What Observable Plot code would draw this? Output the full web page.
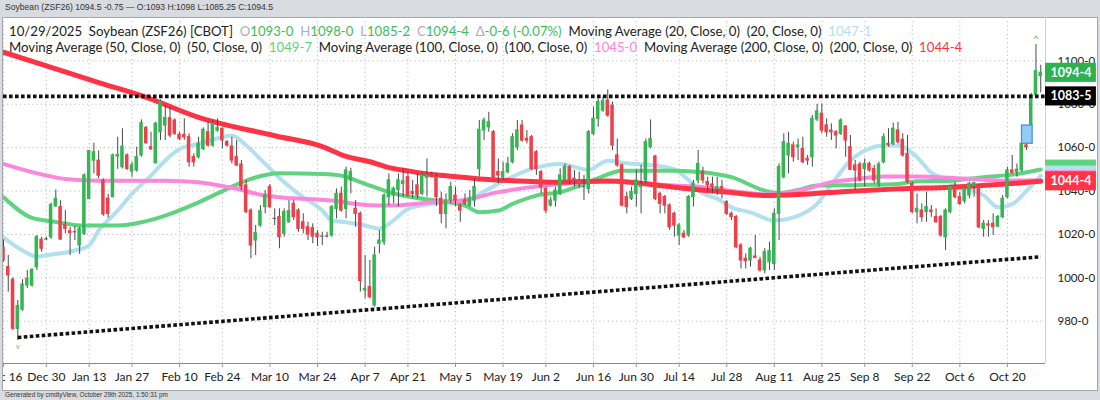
<!DOCTYPE html>
<html><head><meta charset="utf-8">
<script src="https://cdn.jsdelivr.net/npm/d3@7"></script>
<script src="https://cdn.jsdelivr.net/npm/@observablehq/plot@0.6"></script>
<style>
html,body{margin:0;padding:0}
body{background:#d8dbdf;width:1100px;height:400px;overflow:hidden;position:relative;font-family:Lato,sans-serif}
#top{position:absolute;left:5px;top:2px;font-size:8.6px;color:#333;font-family:"Liberation Sans",Arial,sans-serif;white-space:pre}
#frame{position:absolute;left:2px;top:17px;width:1096px;height:374px;background:#fff;border:1px solid #a5a8ab;box-sizing:border-box}
#chart{position:absolute;left:3px;top:17px}
.hdr{position:absolute;left:9px;font-size:13.2px;color:#222;white-space:pre;line-height:16px}
.lab{color:#b0b0b0}.gv{color:#3cbc5c}
#bottom{position:absolute;left:5px;top:391px;font-size:6.4px;color:#333;font-family:"Liberation Sans",Arial,sans-serif}
</style></head>
<body>
<div id="top">Soybean (ZSF26) 1094.5 -0.75 — O:1093 H:1098 L:1085.25 C:1094.5</div>
<div id="frame"></div>
<div id="chart"></div>
<div class="hdr" id="h1" style="top:22.5px">10/29/2025  Soybean (ZSF26) [CBOT]  <span class="lab">O</span><span class="gv">1093-0</span>  <span class="lab">H</span><span class="gv">1098-0</span>  <span class="lab">L</span><span class="gv">1085-2</span>  <span class="lab">C</span><span class="gv">1094-4</span>  <span class="lab">Δ</span><span class="gv">-0-6 (-0.07%)</span>  Moving Average (20, Close, 0)  (20, Close, 0)  <span style="color:#b3e0ee">1047-1</span></div>
<div class="hdr" id="h2" style="top:39px">Moving Average (50, Close, 0)  (50, Close, 0)  <span style="color:#5fd37f">1049-7</span>  Moving Average (100, Close, 0)  (100, Close, 0)  <span style="color:#ff86dd">1045-0</span>  Moving Average (200, Close, 0)  (200, Close, 0)  <span style="color:#ff3346">1044-4</span></div>
<div id="bottom">Generated by cmdtyView, October 29th 2025, 1:50:31 pm</div>
<script>
// ---- data (trading-day index 0 = Dec 16 2024 ... 218 = Oct 29 2025) ----
const open = [1013.8,1004.9,999.1,976.5,985.3,996.5,996.5,1004.9,1017.5,1017.7,1018.7,1032.9,1032.6,1024.4,1021.5,1021.0,1014.9,1020.3,1036.4,1054.0,1054.0,1044.8,1036.5,1037.2,1056.0,1051.0,1056.4,1049.0,1049.5,1056.4,1069.1,1060.2,1052.8,1067.1,1070.2,1073.6,1072.5,1065.9,1065.9,1064.8,1055.6,1055.6,1059.4,1067.1,1061.0,1067.9,1068.7,1062.5,1060.5,1055.6,1052.2,1042.6,1031.0,1017.2,1024.1,1032.6,1041.8,1027.2,1028.0,1020.3,1025.6,1034.1,1031.0,1025.6,1023.3,1022.9,1020.3,1019.0,1019.0,1019.5,1031.8,1038.7,1031.8,1044.9,1031.8,1029.5,994.2,995.7,987.3,1015.7,1016.4,1037.2,1037.9,1040.5,1043.3,1046.4,1039.5,1042.6,1038.7,1046.1,1047.2,1046.4,1036.4,1029.5,1035.6,1037.9,1033.3,1035.6,1033.3,1035.6,1050.2,1067.9,1069.4,1067.1,1048.7,1046.4,1048.7,1053.3,1060.2,1070.2,1064.0,1064.8,1057.9,1048.7,1041.0,1033.3,1035.6,1038.7,1044.9,1051.0,1045.6,1044.9,1041.8,1041.0,1066.4,1073.3,1077.1,1081.7,1079.4,1056.4,1051.8,1037.2,1036.4,1038.7,1041.8,1044.9,1060.2,1055.9,1038.7,1037.2,1033.3,1029.5,1019.5,1020.3,1019.5,1037.2,1044.9,1048.7,1044.1,1043.0,1041.0,1041.8,1034.9,1029.5,1028.0,1014.9,1008.8,1008.0,1009.8,1008.0,1003.4,1007.2,1006.4,1029.5,1046.4,1056.4,1061.0,1060.2,1059.4,1054.8,1055.6,1073.0,1075.6,1070.2,1067.9,1067.1,1066.4,1069.7,1060.2,1051.8,1052.2,1050.2,1052.5,1050.2,1043.3,1053.3,1061.7,1061.7,1067.9,1063.6,1057.1,1043.3,1030.3,1031.0,1030.3,1031.0,1028.0,1028.0,1018.7,1030.3,1041.8,1037.2,1035.3,1038.0,1042.3,1041.8,1022.6,1024.6,1024.9,1023.6,1028.0,1037.2,1049.5,1048.7,1049.5,1061.0,1070.1,1084.2,1093.0];
const high = [1017.5,1010.3,1000.0,989.6,999.1,1003.4,1004.1,1019.5,1018.7,1018.7,1034.4,1040.5,1035.6,1031.0,1023.3,1023.6,1023.3,1047.9,1058.7,1062.0,1058.5,1045.6,1038.5,1057.1,1064.8,1068.7,1057.1,1053.3,1060.2,1072.8,1069.7,1067.1,1071.7,1082.0,1079.4,1078.7,1073.3,1067.1,1073.3,1066.4,1057.1,1064.8,1069.1,1071.7,1072.5,1073.3,1069.1,1063.3,1064.8,1063.3,1054.1,1044.9,1031.8,1024.1,1033.3,1040.2,1043.0,1031.8,1031.8,1031.8,1035.6,1035.6,1031.8,1029.5,1025.6,1024.9,1021.8,1021.0,1021.0,1033.3,1041.0,1041.8,1051.0,1050.5,1035.6,1030.3,1010.3,1008.0,1014.1,1021.8,1038.7,1047.9,1041.8,1047.9,1050.2,1048.7,1044.9,1047.9,1048.2,1054.8,1048.7,1047.9,1039.5,1038.7,1044.1,1041.8,1034.1,1038.7,1040.2,1045.6,1072.5,1073.7,1076.3,1067.9,1054.8,1053.3,1055.6,1066.4,1072.5,1072.5,1067.9,1065.6,1058.7,1049.5,1041.8,1037.2,1041.8,1050.2,1052.5,1051.8,1049.5,1048.7,1047.2,1067.9,1078.7,1082.5,1083.3,1086.6,1081.0,1064.0,1052.5,1039.5,1041.8,1049.5,1051.8,1064.0,1072.8,1056.4,1039.5,1038.0,1034.1,1030.3,1024.9,1021.8,1037.9,1044.9,1058.7,1051.0,1046.4,1046.4,1046.4,1044.9,1035.6,1030.3,1028.7,1015.7,1011.0,1014.1,1019.5,1009.5,1013.4,1016.4,1031.8,1052.5,1066.4,1067.1,1062.5,1064.0,1064.8,1056.4,1074.8,1080.0,1080.2,1073.3,1071.0,1067.9,1073.3,1070.2,1065.6,1054.1,1053.3,1054.8,1053.3,1051.8,1053.3,1066.4,1068.7,1071.3,1071.7,1066.4,1065.6,1044.1,1038.7,1034.1,1039.5,1033.3,1031.8,1028.7,1031.8,1042.6,1044.1,1039.5,1041.8,1044.1,1044.1,1042.6,1026.4,1026.4,1029.5,1028.7,1037.9,1051.0,1056.4,1052.5,1062.5,1062.5,1085.0,1107.5,1098.0];
const low = [1007.2,993.4,975.7,971.1,984.6,995.0,995.7,1003.4,1011.8,1017.2,1017.7,1032.6,1017.2,1020.3,1010.3,1017.2,1010.8,1019.5,1035.9,1047.9,1045.6,1028.4,1027.5,1036.9,1050.0,1050.2,1049.5,1046.4,1048.7,1055.6,1061.8,1058.7,1052.5,1063.3,1063.3,1064.5,1065.6,1063.3,1063.3,1051.0,1051.0,1054.8,1058.7,1060.2,1060.2,1067.1,1059.4,1060.2,1052.5,1051.3,1040.2,1029.5,1008.8,1010.3,1023.3,1029.5,1031.8,1024.1,1013.4,1018.7,1025.2,1026.4,1021.0,1020.3,1017.2,1015.7,1014.4,1014.9,1018.4,1018.7,1027.2,1030.3,1027.2,1038.7,1023.3,993.4,990.3,990.3,986.5,1011.0,1014.9,1033.3,1034.1,1032.6,1037.2,1037.2,1036.4,1036.4,1037.9,1037.2,1046.1,1032.9,1024.9,1022.6,1034.1,1032.9,1025.6,1033.3,1032.6,1032.6,1046.4,1063.3,1067.1,1044.9,1043.3,1044.9,1047.9,1052.5,1058.7,1062.5,1061.7,1049.5,1047.2,1038.7,1029.5,1032.6,1032.6,1037.9,1044.1,1043.3,1041.8,1041.0,1035.6,1038.7,1065.6,1069.4,1076.3,1074.0,1058.7,1051.0,1032.6,1029.5,1035.6,1032.6,1029.5,1043.3,1059.4,1035.6,1029.5,1029.5,1021.8,1018.7,1014.9,1018.0,1018.7,1032.6,1043.3,1043.3,1039.5,1038.7,1037.9,1036.4,1028.7,1026.4,1013.4,1004.1,1004.1,1004.9,1008.8,1002.6,1001.8,1003.4,1003.4,1017.2,1045.6,1047.9,1053.3,1054.1,1052.5,1051.8,1051.0,1072.0,1066.4,1064.8,1063.3,1059.4,1065.6,1055.6,1049.5,1040.2,1044.1,1041.8,1048.7,1043.3,1041.8,1052.5,1060.2,1061.0,1061.7,1055.6,1043.3,1029.5,1024.9,1025.6,1025.6,1027.9,1025.2,1018.7,1012.6,1029.5,1036.4,1033.3,1034.1,1036.4,1037.2,1022.6,1018.7,1018.7,1019.5,1023.3,1027.2,1036.4,1047.9,1046.4,1048.7,1058.7,1069.9,1083.5,1085.25];
const close = [1008.0,1001.1,976.5,987.0,996.9,999.5,1003.7,1018.7,1013.4,1017.7,1033.6,1036.4,1017.7,1022.6,1020.6,1021.0,1022.6,1047.2,1058.4,1057.9,1047.1,1029.2,1029.5,1056.4,1056.6,1060.5,1050.2,1051.8,1055.6,1071.3,1062.0,1059.4,1071.0,1081.0,1073.7,1065.6,1066.4,1064.0,1064.8,1053.3,1053.3,1061.7,1068.2,1061.0,1071.0,1069.1,1063.3,1061.0,1054.1,1051.8,1041.8,1030.3,1014.9,1020.6,1030.7,1038.0,1032.6,1027.2,1018.7,1030.3,1030.7,1028.0,1022.6,1022.6,1020.0,1019.0,1018.7,1019.0,1019.0,1032.6,1038.7,1031.0,1049.5,1048.7,1029.5,998.5,994.9,991.1,1010.3,1017.2,1037.9,1044.9,1041.0,1044.9,1044.5,1037.9,1038.7,1037.9,1047.2,1047.2,1046.4,1037.2,1029.5,1035.6,1041.8,1035.6,1031.0,1034.1,1036.4,1041.8,1068.2,1072.5,1071.7,1045.6,1047.2,1048.7,1052.5,1064.8,1067.9,1063.3,1063.3,1050.2,1050.2,1041.8,1031.0,1035.6,1040.2,1047.2,1051.0,1044.9,1044.9,1043.3,1041.8,1067.1,1073.3,1081.0,1081.4,1074.8,1061.0,1051.8,1033.3,1032.6,1039.5,1044.9,1042.6,1062.5,1064.0,1036.4,1034.1,1033.3,1023.3,1024.1,1024.1,1018.7,1037.2,1043.3,1052.5,1044.9,1042.6,1041.8,1041.8,1038.7,1029.5,1028.0,1014.1,1008.0,1007.7,1013.4,1009.2,1003.4,1011.8,1012.3,1029.5,1051.0,1062.5,1061.7,1055.6,1061.0,1053.3,1054.1,1073.3,1076.7,1067.9,1067.1,1067.1,1065.6,1072.5,1063.3,1049.8,1049.5,1044.9,1052.5,1049.5,1044.9,1052.2,1064.8,1061.3,1068.7,1062.5,1056.4,1044.1,1030.3,1031.8,1028.0,1032.6,1030.3,1025.6,1019.5,1031.0,1041.8,1037.2,1034.1,1041.0,1043.3,1043.6,1023.3,1024.9,1024.1,1023.3,1028.0,1036.4,1049.5,1048.4,1049.8,1061.7,1060.2,1084.0,1095.25,1094.5];

const ma20Idx = [0,4,7,10,15,18,20,24,27,31,34,37,41,46,48,51,55,58,62,67,69,72,76,79,82,85,90,97,102,106,111,117,123,127,131,137,141,144,147,150,153,157,162,165,168,171,174,178,182,185,188,192,195,198,201,204,206,209,212,215,218];
const ma20Val = [1018.7,1012.6,1009.8,1010.7,1012.6,1015,1021.8,1031,1038.7,1047.1,1054.1,1059.4,1061.8,1064.8,1065.6,1061,1052.5,1046,1038.7,1031,1026.4,1025.6,1024.1,1022.6,1026.5,1031.8,1034.1,1035.6,1041,1045.6,1050.2,1052.5,1049.8,1054,1052.8,1051.7,1050,1045,1039,1036.5,1032.5,1030.2,1026.4,1027.2,1029.5,1034.1,1043,1054.1,1059.6,1061,1061,1055.6,1048.5,1045.5,1041.5,1040,1038,1032.5,1034,1040,1047.1];
const ma50Idx = [0,6,10,17,24,29,34,41,47,52,58,67,71,76,81,86,91,97,100,104,107,112,117,124,130,141,147,153,160,163,167,171,180,188,192,199,206,213,218];
const ma50Val = [1037.1,1027.6,1026.1,1024.1,1024.1,1025.6,1028.7,1034.8,1041,1045.6,1048.2,1047.9,1047.1,1043.3,1039.5,1037.1,1035.6,1033.3,1030.2,1031,1034.1,1037.9,1039.5,1045,1049.4,1049.4,1048.7,1046.4,1040.2,1039,1040.5,1042.5,1042.8,1043.3,1044.5,1044.8,1046.4,1047.8,1049.9];
const ma100Idx = [0,6,13,20,34,41,48,55,58,69,76,81,90,97,104,111,117,127,141,147,155,160,168,174,178,185,192,199,206,210,218];
const ma100Val = [1052.5,1048.7,1045.6,1044.8,1044.8,1044.1,1041.5,1037.9,1037.1,1035.6,1033.6,1033.3,1034.8,1035.9,1039.5,1041.8,1043.3,1044.5,1042.5,1041.8,1039.5,1038.4,1040.5,1044.1,1045.2,1046.7,1046.7,1046.1,1045.2,1044.8,1045];
const ma200Idx = [0,10,20,30,41,57,67,72,77,81,85,88,93,100,107,117,127,141,147,152,160,168,178,188,199,209,218];
const ma200Val = [1104,1097,1090,1083.2,1074,1065.5,1060.5,1056,1053.5,1050.8,1049.3,1048.2,1047,1045.6,1044.8,1044.1,1044.6,1041.8,1040.4,1039.5,1037.9,1038.5,1039.9,1041,1041.8,1043,1044.5];

const tickIdx = [0,9,18,27,37,46,56,66,76,85,95,105,114,124,133,142,152,162,172,181,191,201,211];
const tickLabels = ["Dec 16","Dec 30","Jan 13","Jan 27","Feb 10","Feb 24","Mar 10","Mar 24","Apr 7","Apr 21","May 5","May 19","Jun 2","Jun 16","Jun 30","Jul 14","Jul 28","Aug 11","Aug 25","Sep 8","Sep 22","Oct 6","Oct 20"];
const yTicks = [980,1000,1020,1040,1060,1080,1100];
const yTickLabels = ["980-0","1000-0","1020-0","1040-0","1060-0","1080-0","1100-0"];

const resistance = 1083.625;
const trendIdx = [3, 218];
const trendVal = [972.5, 1009.7];
const gapIdx = [214.05, 216.3];
const gapVal = [1061.8, 1070.2];

// price-axis flags; the first three sit underneath the 200-MA flag in the picture
const boxLabels = ["1049-7","1047-1","1045-0","1044-4","1094-4","1083-5"];
const boxValues = [1049.875,1047.125,1045.0,1044.5,1094.5,1083.625];
const boxColors = ["#5fd37f","#b3e0ee","#ff86dd","#ff3346","#2eb14f","#000000"];
const boxShowText = [false,false,false,true,true,true];

// ---- styles ----
const GREEN = "#35b553", RED = "#ef3f4b", DOJI = "#666";
const dotted = {stroke: "#111", strokeWidth: 3.6, strokeDasharray: "3.6,2.4", strokeLinecap: "butt"};

const candles = open.map((o, i) => ({i, o, h: high[i], l: low[i], c: close[i]}));
const maLine = (I, V) => I.map((i, k) => ({i, v: V[k]}));
const boxes = boxLabels.map((t, k) => ({t, v: boxValues[k], fill: boxColors[k], show: boxShowText[k]}));
const xMax = 219, boxX2 = 229.7, halfBox = 4.4;

const boxMarks = boxes.flatMap(b => [
  Plot.rect([b], {x1: xMax, x2: boxX2, y1: d => d.v - halfBox, y2: d => d.v + halfBox, fill: b.fill}),
  ...(b.show ? [Plot.text([b], {x: (xMax + boxX2) / 2, y: "v", text: "t", fill: "white", fontWeight: "bold", fontSize: 12.5})] : [])
]);

const chart = Plot.plot({
  width: 1094, height: 373,
  marginLeft: 0, marginRight: 52, marginTop: 0, marginBottom: 27,
  style: {fontFamily: "Lato, sans-serif", background: "transparent", overflow: "hidden", color: "#222"},
  x: {type: "linear", domain: [0, xMax]},
  y: {domain: [960.5, 1120]},
  marks: [
    Plot.gridY(yTicks, {stroke: "#bdbdbd", strokeOpacity: 1, strokeDasharray: "1.2,3"}),
    Plot.gridX(tickIdx, {stroke: "#bdbdbd", strokeOpacity: 1, strokeDasharray: "1.2,3"}),
    Plot.ruleY([960.5], {stroke: "#8a8a8a"}),
    Plot.ruleX([xMax], {stroke: "#d0d0d0"}),
    Plot.axisX({ticks: tickIdx, tickFormat: d => tickLabels[tickIdx.indexOf(d)], tickSize: 4, tickPadding: 5, fontSize: 12, label: null, stroke: "#999"}),
    Plot.axisY({anchor: "right", ticks: yTicks, tickFormat: d => yTickLabels[yTicks.indexOf(d)], tickSize: 0, tickPadding: 12, fontSize: 11.5, label: null}),
    Plot.line(maLine(ma20Idx, ma20Val), {x: "i", y: "v", stroke: "#b3e0ee", strokeWidth: 4, curve: "monotone-x"}),
    Plot.line(maLine(ma50Idx, ma50Val), {x: "i", y: "v", stroke: "#5fd37f", strokeWidth: 4, curve: "monotone-x"}),
    Plot.line(maLine(ma100Idx, ma100Val), {x: "i", y: "v", stroke: "#ff86dd", strokeWidth: 4, curve: "monotone-x"}),
    Plot.line(maLine(ma200Idx, ma200Val), {x: "i", y: "v", stroke: "#ff3346", strokeWidth: 5, curve: "monotone-x"}),
    Plot.ruleX(candles, {x: "i", y1: "l", y2: "h", stroke: "#4a4a4a", strokeWidth: 1}),
    Plot.rect(candles, {x1: d => d.i - 0.37, x2: d => d.i + 0.37, y1: "o", y2: "c",
      fill: d => d.c > d.o ? GREEN : d.c < d.o ? RED : DOJI, insetTop: -0.6, insetBottom: -0.6}),
    Plot.ruleY([resistance], dotted),
    Plot.line(trendIdx.map((i, k) => ({i, v: trendVal[k]})), {x: "i", y: "v", ...dotted}),
    Plot.rect([0], {x1: gapIdx[0], x2: gapIdx[1], y1: gapVal[0], y2: gapVal[1], fill: "#93cbf6", stroke: "#3f8fe0", strokeWidth: 1.2}),
    Plot.text([{i: 217, v: high[217]}], {x: "i", y: "v", text: () => "^", dy: -6, fill: "#3cbc5c", fontSize: 10}),
    Plot.text([{i: 3, v: low[3]}], {x: "i", y: "v", text: () => "v", dy: 6, fill: "#3cbc5c", fontSize: 7}),
    ...boxMarks
  ]
});
document.getElementById("chart").appendChild(chart);
</script>
</body></html>
